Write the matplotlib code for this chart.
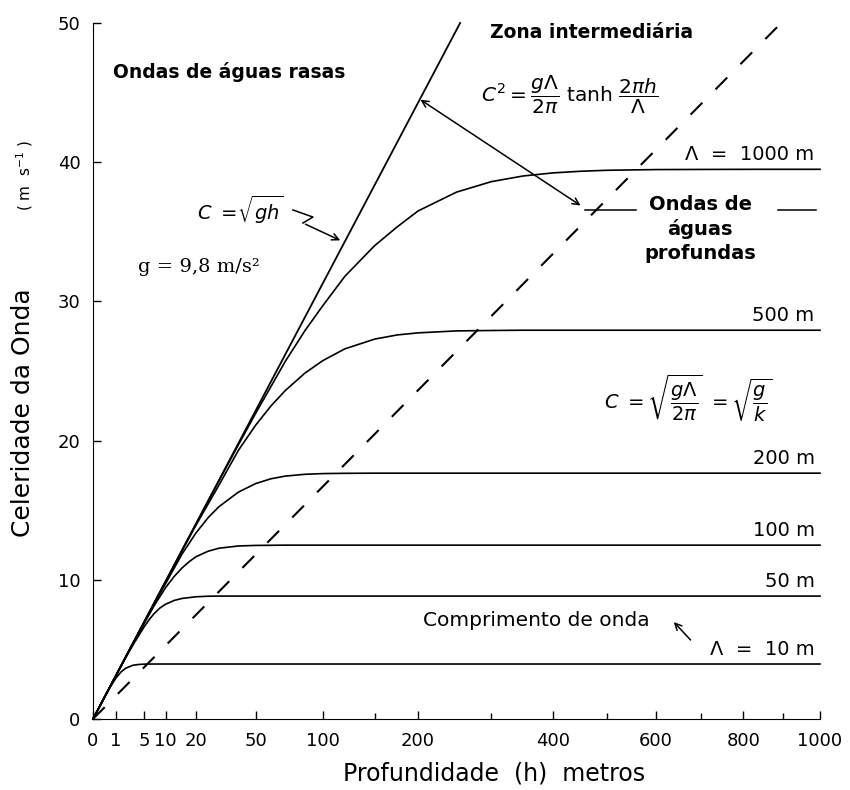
import numpy as np
import matplotlib.pyplot as plt

# profundidade h (m) e celeridade C (m/s), uma curva por comprimento de onda
depth_1000 = [0, 5, 10, 20, 30, 40, 50, 60, 70, 85, 100, 120, 150, 175, 200, 250, 300, 350, 400, 450, 500, 600, 700, 850, 1000]
c_1000 = [0, 7.0, 9.9, 13.99, 17.1, 19.7, 21.95, 23.9, 25.7, 27.9, 29.7, 31.8, 34.0, 35.35, 36.5, 37.85, 38.6, 39.01, 39.23, 39.35, 39.42, 39.47, 39.48, 39.49, 39.49]
depth_500 = [0, 2, 5, 10, 15, 20, 30, 40, 50, 60, 70, 85, 100, 120, 150, 175, 200, 250, 300, 350, 1000]
c_500 = [0, 4.43, 7.0, 9.88, 12.08, 13.9, 16.8, 19.3, 21.1, 22.5, 23.6, 24.85, 25.75, 26.59, 27.29, 27.59, 27.74, 27.88, 27.91, 27.93, 27.93]
depth_200 = [0, 1, 2, 3, 5, 7, 10, 15, 20, 25, 30, 40, 50, 60, 70, 85, 100, 120, 150, 1000]
c_200 = [0, 3.13, 4.43, 5.42, 6.97, 8.22, 9.74, 11.85, 13.35, 14.45, 15.25, 16.3, 16.91, 17.26, 17.45, 17.58, 17.63, 17.65, 17.66, 17.66]
depth_100 = [0, 1, 2, 3, 5, 7, 10, 12.5, 15, 17.5, 20, 25, 30, 40, 50, 70, 1000]
c_100 = [0, 3.13, 4.42, 5.39, 6.89, 8.1, 9.45, 10.25, 10.85, 11.3, 11.65, 12.05, 12.27, 12.43, 12.47, 12.49, 12.49]
depth_50 = [0, 0.5, 1, 2, 3, 4, 5, 6, 7, 8.5, 10, 12.5, 15, 20, 25, 30, 1000]
c_50 = [0, 2.21, 3.12, 4.38, 5.3, 6.02, 6.65, 7.15, 7.55, 7.98, 8.25, 8.52, 8.66, 8.78, 8.82, 8.83, 8.83]
depth_10 = [0, 0.25, 0.5, 1, 1.5, 2, 3, 4, 5, 7, 1000]
c_10 = [0, 1.56, 2.18, 2.95, 3.39, 3.64, 3.86, 3.92, 3.94, 3.95, 3.95]

depths = [depth_1000, depth_500, depth_200, depth_100, depth_50, depth_10]
curves = [c_1000, c_500, c_200, c_100, c_50, c_10]
wave_labels = ['\u039b  =  1000 m', '500 m', '200 m', '100 m', '50 m', '\u039b  =  10 m']

# C = raiz(gh) (linha cheia) e limite das aguas profundas (tracejada)
depth_shallow = [0, 255]
c_shallow = [0, 50]
depth_deep = [0, 896]
c_deep = [0, 50]

xticks = [0, 1, 5, 10, 20, 50, 100, 200, 400, 600, 800, 1000]
xticks_minor = [150, 300, 500, 700, 900]
yticks = [0, 10, 20, 30, 40, 50]

fig = plt.figure(figsize=(8.5, 7.9), dpi=100)
ax = fig.add_axes([93 / 850, 71 / 790, 727 / 850, 696 / 790])
# eixo x em raiz quadrada da profundidade
ax.set_xscale('function', functions=(lambda x: np.sqrt(np.clip(x, 0, None)), lambda x: np.square(x)))

for d, c in zip(depths, curves):
    ax.plot(d, c, color='black', lw=1.2, clip_on=False)
ax.plot(depth_shallow, c_shallow, color='black', lw=1.3, clip_on=False)
ax.plot(depth_deep, c_deep, color='black', lw=1.5, linestyle=(0, (8, 9)), clip_on=False)

for c, lab in zip(curves, wave_labels):
    ax.text(985, c[-1] + 0.35, lab, ha='right', va='bottom', fontsize=14)

ax.set_xlim(0, 1000)
ax.set_ylim(0, 50)
ax.set_xticks(xticks)
ax.set_xticklabels([str(t) for t in xticks])
ax.set_xticks(xticks_minor, minor=True)
ax.set_yticks(yticks)
ax.spines['top'].set_visible(False)
ax.spines['right'].set_visible(False)
ax.tick_params(which='major', direction='in', length=6, width=1, labelsize=13, pad=9)
ax.tick_params(which='minor', direction='in', length=4, width=1)

# textos
ax.text(0.0275, 0.93, 'Ondas de \u00e1guas rasas', transform=ax.transAxes, fontsize=13.5,
        fontweight='bold', ha='left', va='center')
ax.text(0.686, 0.986, 'Zona intermedi\u00e1ria', transform=ax.transAxes, fontsize=13.5,
        fontweight='bold', ha='center', va='center')
ax.text(0.655, 0.897, r'$C^2 = \dfrac{g\Lambda}{2\pi}\ \mathrm{tanh}\ \dfrac{2\pi h}{\Lambda}$',
        transform=ax.transAxes, fontsize=14.5, ha='center', va='center')
ax.text(0.143, 0.731, r'$C\ =\!\sqrt{gh}$', transform=ax.transAxes, fontsize=14,
        ha='left', va='center')
ax.text(0.062, 0.649, 'g = 9,8 m/s\u00b2', transform=ax.transAxes, fontsize=14,
        family='DejaVu Serif', ha='left', va='center')
ax.text(0.835, 0.704, 'Ondas de\n\u00e1guas\nprofundas', transform=ax.transAxes, fontsize=14,
        fontweight='bold', ha='center', va='center', linespacing=1.3)
ax.text(0.818, 0.461, r'$C\ =\sqrt{\dfrac{g\Lambda}{2\pi}}\ =\sqrt{\dfrac{g}{k}}$',
        transform=ax.transAxes, fontsize=14, ha='center', va='center')
ax.text(0.454, 0.142, 'Comprimento de onda', transform=ax.transAxes, fontsize=14.5,
        ha='left', va='center')

# setas
ax.annotate('', xy=(200, 44.6), xytext=(454, 36.78),
            arrowprops=dict(arrowstyle='<->', color='black', lw=1.1, mutation_scale=12))
ax.plot([458, 557], [36.57, 36.57], color='black', lw=1.1)
ax.plot([887, 988], [36.57, 36.57], color='black', lw=1.1)
ax.plot([75.6, 91.5, 83.4], [36.57, 36.06, 35.63], color='black', lw=1.1)
ax.annotate('', xy=(118, 34.3), xytext=(83.4, 35.63),
            arrowprops=dict(arrowstyle='->', color='black', lw=1.1, mutation_scale=12))
ax.annotate('', xy=(634, 7.11), xytext=(680, 5.53),
            arrowprops=dict(arrowstyle='->', color='black', lw=1.1, mutation_scale=12))

# rotulos dos eixos
fig.text(23 / 850, 1 - 413 / 790, 'Celeridade da Onda', rotation=90, fontsize=18,
         ha='center', va='center')
fig.text(25 / 850, 1 - 175 / 790, r'( m  s$^{-1}$ )', rotation=90, fontsize=11,
         ha='center', va='center')
fig.text(343 / 850, 1 - 773 / 790, 'Profundidade  (h)  metros', fontsize=17,
         ha='left', va='center')

fig.savefig('out.png', dpi=100)
